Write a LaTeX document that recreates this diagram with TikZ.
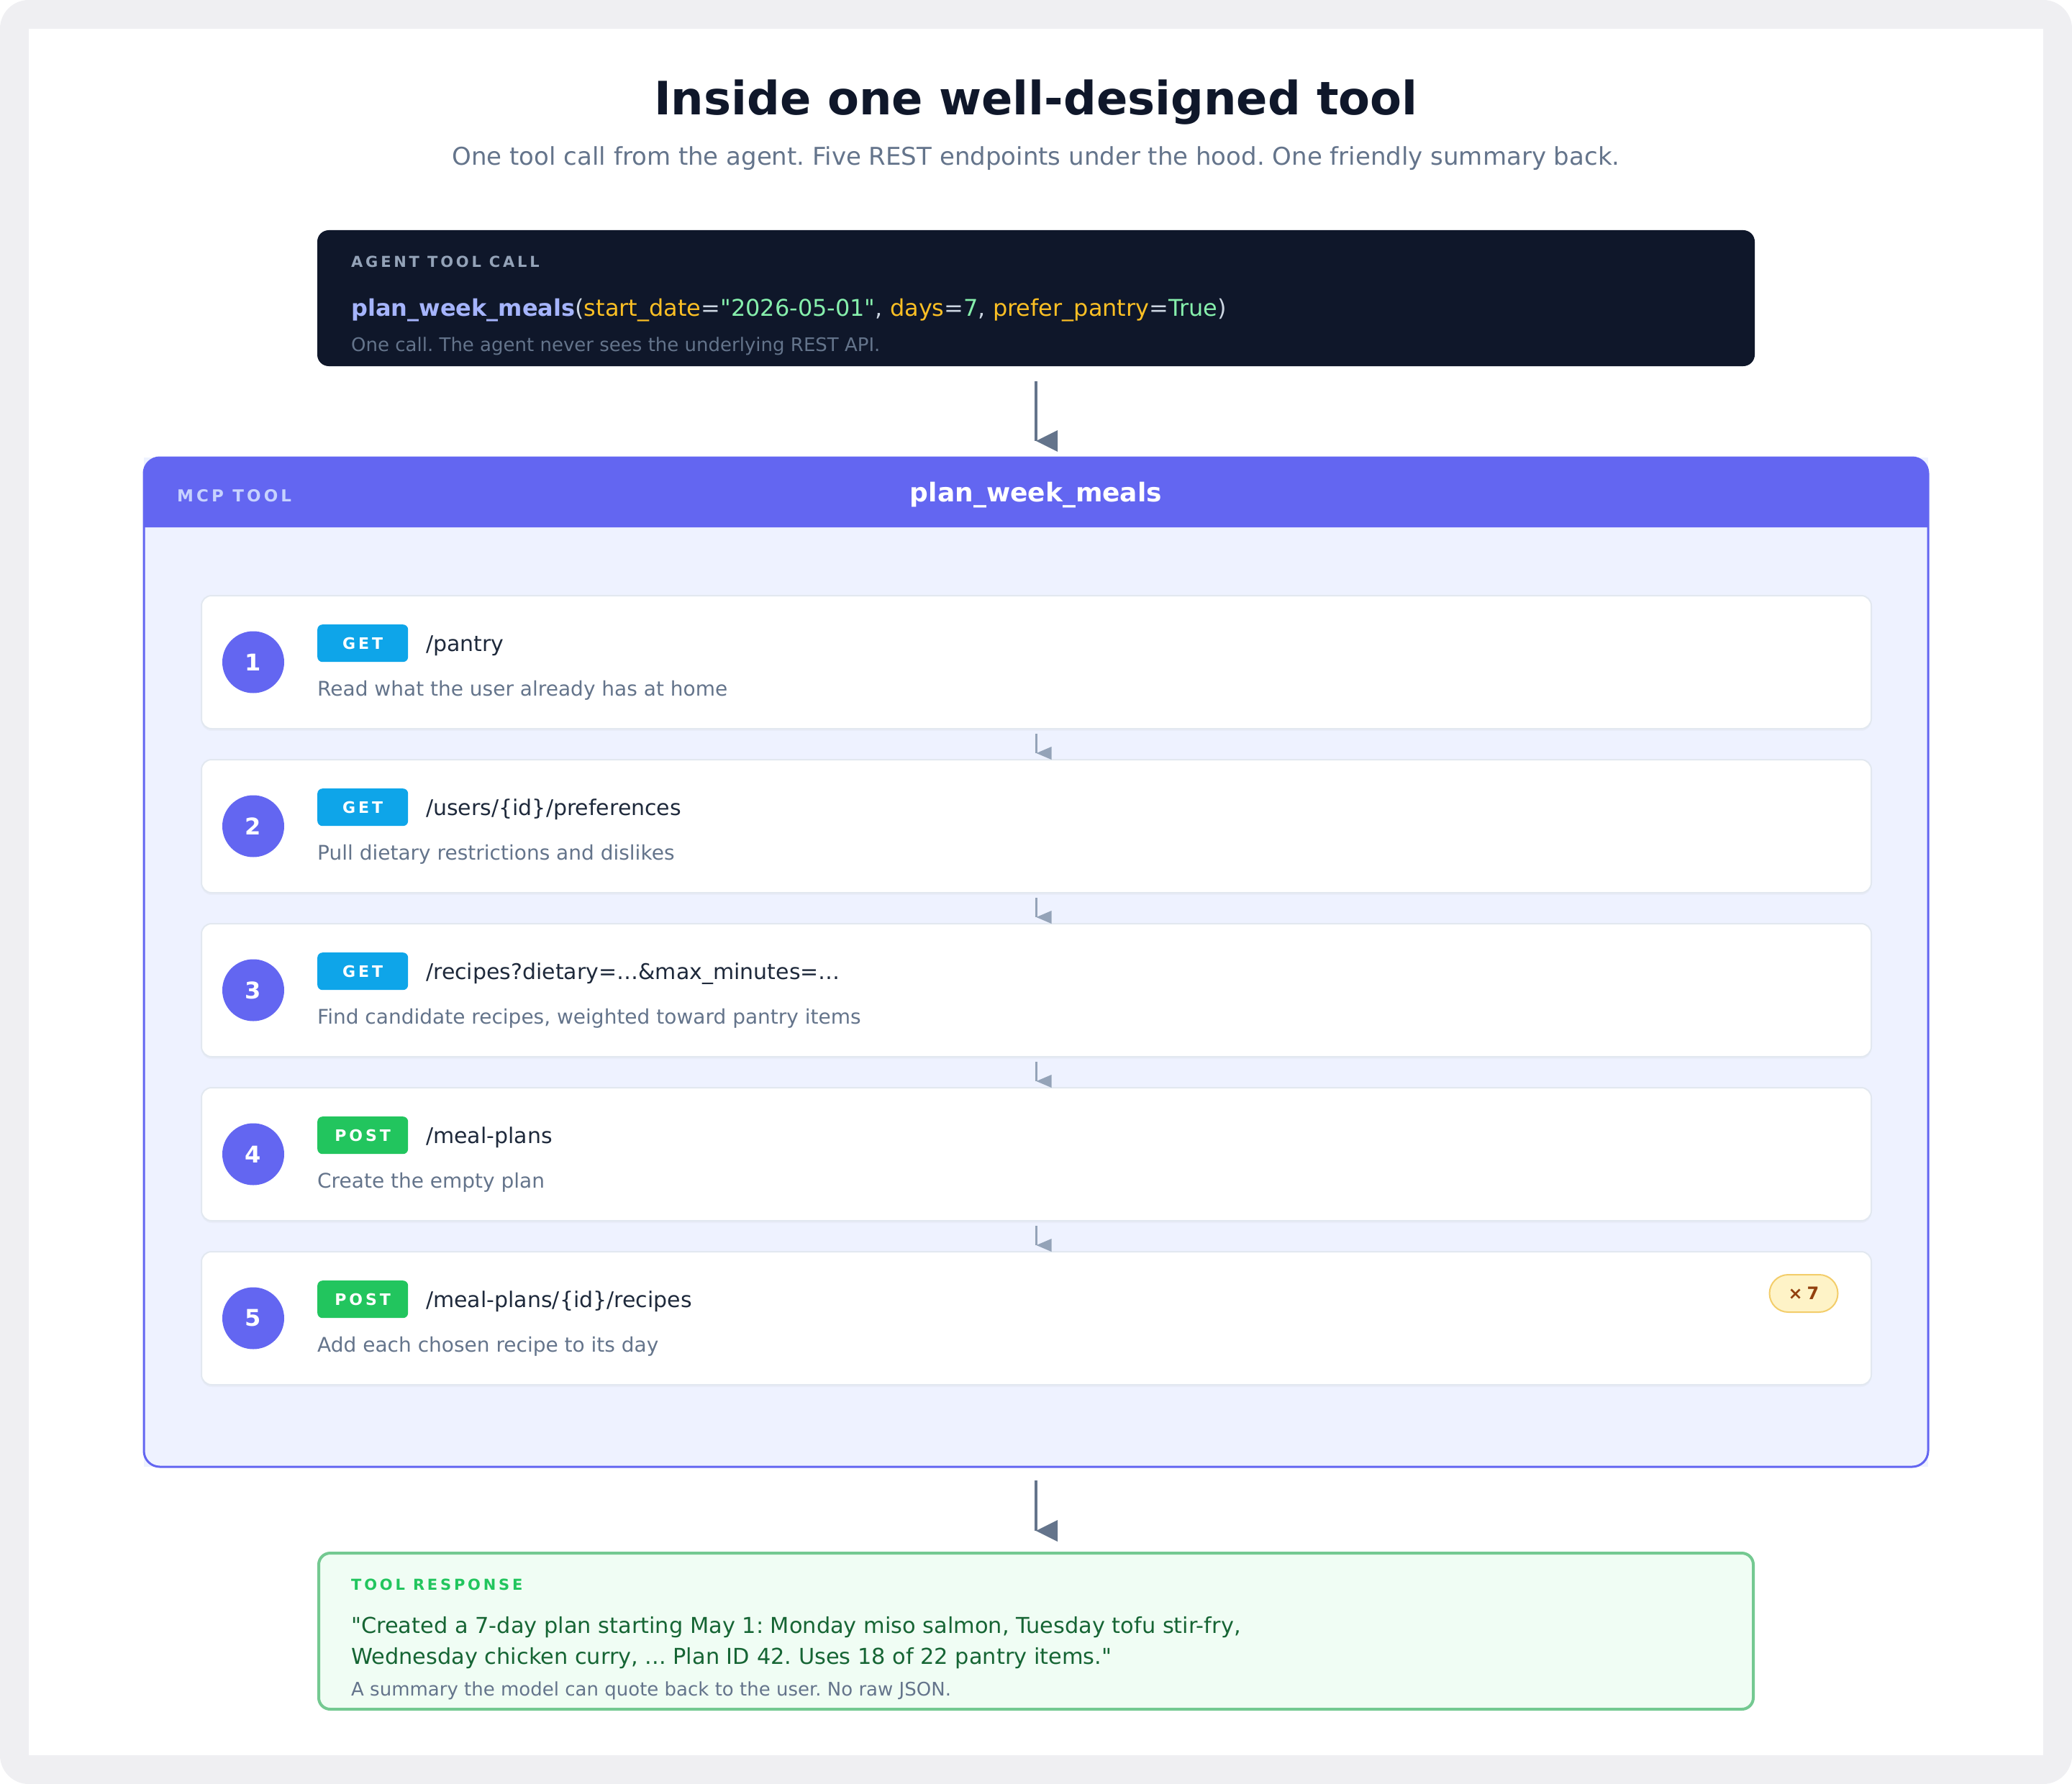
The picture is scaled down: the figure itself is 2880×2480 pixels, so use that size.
\documentclass[tikz,border=0pt]{standalone}
\usepackage{fontspec}
\setmainfont{DejaVu Sans}[Ligatures=TeXOff]
\newfontfamily\kickerfont[LetterSpace=18,Ligatures=TeXOff]{DejaVu Sans}
\frenchspacing
\usetikzlibrary{calc,positioning,shadows}
\definecolor{navy}{HTML}{0F172A}
\definecolor{slate}{HTML}{64748B}
\definecolor{slatelt}{HTML}{94A3B8}
\definecolor{slatedk}{HTML}{1E293B}
\definecolor{framegray}{HTML}{EFEFF2}
\definecolor{indigo}{HTML}{6366F1}
\definecolor{indigobg}{HTML}{EEF2FF}
\definecolor{indigolt}{HTML}{C7D2FE}
\definecolor{fnname}{HTML}{A5B4FC}
\definecolor{argname}{HTML}{FBBF24}
\definecolor{argval}{HTML}{86EFAC}
\definecolor{punct}{HTML}{CBD5E1}
\definecolor{sky}{HTML}{0EA5E9}
\definecolor{grass}{HTML}{22C55E}
\definecolor{cardline}{HTML}{E2E8F0}
\definecolor{amberbg}{HTML}{FEF3C7}
\definecolor{amberline}{HTML}{F3CD6A}
\definecolor{amberdk}{HTML}{92400E}
\definecolor{mintbg}{HTML}{F0FDF4}
\definecolor{mintline}{HTML}{74C991}
\definecolor{mintdk}{HTML}{166534}
\newdimen\cardw
\newdimen\cardh
\cardw=2321pt
\cardh=185pt
\tikzstyle{panel}=[
  rectangle,
  inner sep=0pt,
  outer sep=0pt,
]
\tikzstyle{card}=[
  panel,
  draw=cardline,
  line width=2pt,
  fill=white,
  rounded corners=14pt,
  minimum width=\cardw,
  minimum height=\cardh,
  drop shadow={opacity=0.05, shadow xshift=0pt, shadow yshift=-3pt},
]
\tikzstyle{stepno}=[
  circle,
  fill=indigo,
  minimum size=86pt,
  inner sep=0pt,
  text=white,
  font={\fontsize{32}{36}\selectfont\bfseries},
]
\tikzstyle{verb}=[
  rectangle,
  rounded corners=7pt,
  minimum width=126pt,
  minimum height=52pt,
  inner sep=0pt,
  anchor=north west,
  text=white,
  font={\kickerfont\fontsize{22}{26}\selectfont\bfseries},
]
\tikzstyle{getverb}=[verb, fill=sky]
\tikzstyle{postverb}=[verb, fill=grass]
\tikzstyle{endpoint}=[
  anchor=base west,
  inner sep=0pt,
  text=slatedk,
  font={\fontsize{30}{36}\selectfont},
]
\tikzstyle{stepnote}=[
  anchor=base west,
  inner sep=0pt,
  text=slate,
  font={\fontsize{28}{32}\selectfont},
]
\tikzstyle{smallnote}=[
  stepnote,
  font={\fontsize{26}{30}\selectfont},
]
\tikzstyle{kicker}=[
  anchor=base west,
  inner sep=0pt,
  font={\kickerfont\fontsize{21}{24}\selectfont\bfseries},
]
\tikzstyle{flow}=[draw=slate, line width=3.5pt]
\tikzstyle{flowtip}=[fill=slate]
\tikzstyle{substep}=[draw=slatelt, line width=2.5pt]
\tikzstyle{substeptip}=[fill=slatelt]
\tikzset{
  x=1pt,
  y=-1pt,
  node distance=43pt,
}
\begin{document}
\begin{tikzpicture}
  \useasboundingbox (0,0) rectangle (2880,2480);
  \fill [white] (0,0) rectangle (2880,2480);
  \fill [framegray, rounded corners=40pt] (0,0) rectangle (2880,2480);
  \fill [white] (40,40) rectangle (2840,2440);
  %%
  \node (title) [anchor=base, inner sep=0pt, text=navy, font={\fontsize{64}{70}\selectfont\bfseries}] at (1440,160) {Inside one well-designed tool};
  \node (subtitle) [anchor=base, inner sep=0pt, text=slate, font={\fontsize{34}{38}\selectfont}] at (1440,230) {One tool call from the agent. Five REST endpoints under the hood. One friendly summary back.};
  %%
  \node (call) [panel, fill=navy, rounded corners=16pt, minimum width=1998pt, minimum height=189pt, anchor=north] at (1440,320) {};
  \node (calllabel) [kicker, text=slatelt] at ($(call.north west)+(47,52)$) {AGENT TOOL CALL};
  \node (callcode) [anchor=base west, inner sep=0pt, font={\fontsize{32}{38}\selectfont}] at ($(call.north west)+(47,119)$) {\textcolor{fnname}{\bfseries plan\_week\_meals}\textcolor{punct}{(}\textcolor{argname}{start\_date}\textcolor{punct}{=}\textcolor{argval}{"2026-05-01"}\textcolor{punct}{, }\textcolor{argname}{days}\textcolor{punct}{=}\textcolor{argval}{7}\textcolor{punct}{, }\textcolor{argname}{prefer\_pantry}\textcolor{punct}{=}\textcolor{argval}{True}\textcolor{punct}{)}};
  \node (callnote) [smallnote] at ($(call.north west)+(47,168)$) {One call. The agent never sees the underlying REST API.};
  %%
  \node (mcp) [panel, fill=indigobg, minimum width=2480pt, minimum height=1403pt, anchor=north] at (1440,636) {};
  \coordinate (mcphead) at ($(mcp.north)+(0,97)$);
  \fill [indigo] (mcp.west |- mcphead) [rounded corners=22pt] -- (mcp.north west) -- (mcp.north east) [sharp corners] -- (mcp.east |- mcphead) -- cycle;
  \draw [indigo, line width=3pt, rounded corners=22pt] (mcp.north west) rectangle (mcp.south east);
  \node (mcplabel) [kicker, text=indigolt, font={\kickerfont\fontsize{23}{26}\selectfont\bfseries}] at ($(mcp.north west)+(46,61)$) {MCP TOOL};
  \node (mcpname) [anchor=base, inner sep=0pt, text=white, font={\fontsize{36}{40}\selectfont\bfseries}] at ($(mcp.north)+(0,61)$) {plan\_week\_meals};
  %%
  \node (card1) [card, anchor=north west] at (280,828) {};
  \node (card2) [card, below=of card1] {};
  \node (card3) [card, below=of card2] {};
  \node (card4) [card, below=of card3] {};
  \node (card5) [card, below=of card4] {};
  %%
  \node (no1) [stepno] at ($(card1.west)+(72,0)$) {1};
  \node (verb1) [getverb] at ($(card1.north west)+(161,40)$) {GET};
  \node (path1) [endpoint] at ($(card1.north west)+(312,77)$) {/pantry};
  \node (note1) [stepnote] at ($(card1.north west)+(161,139)$) {Read what the user already has at home};
  %%
  \node (no2) [stepno] at ($(card2.west)+(72,0)$) {2};
  \node (verb2) [getverb] at ($(card2.north west)+(161,40)$) {GET};
  \node (path2) [endpoint] at ($(card2.north west)+(312,77)$) {/users/\{id\}/preferences};
  \node (note2) [stepnote] at ($(card2.north west)+(161,139)$) {Pull dietary restrictions and dislikes};
  %%
  \node (no3) [stepno] at ($(card3.west)+(72,0)$) {3};
  \node (verb3) [getverb] at ($(card3.north west)+(161,40)$) {GET};
  \node (path3) [endpoint] at ($(card3.north west)+(312,77)$) {/recipes?dietary=…\&max\_minutes=…};
  \node (note3) [stepnote] at ($(card3.north west)+(161,139)$) {Find candidate recipes, weighted toward pantry items};
  %%
  \node (no4) [stepno] at ($(card4.west)+(72,0)$) {4};
  \node (verb4) [postverb] at ($(card4.north west)+(161,40)$) {POST};
  \node (path4) [endpoint] at ($(card4.north west)+(312,77)$) {/meal-plans};
  \node (note4) [stepnote] at ($(card4.north west)+(161,139)$) {Create the empty plan};
  %%
  \node (no5) [stepno] at ($(card5.west)+(72,0)$) {5};
  \node (verb5) [postverb] at ($(card5.north west)+(161,40)$) {POST};
  \node (path5) [endpoint] at ($(card5.north west)+(312,77)$) {/meal-plans/\{id\}/recipes};
  \node (note5) [stepnote] at ($(card5.north west)+(161,139)$) {Add each chosen recipe to its day};
  \node (times) [rectangle, rounded corners=26pt, draw=amberline, line width=2pt, fill=amberbg, minimum width=95pt, minimum height=52pt, inner sep=0pt, text=amberdk, font={\fontsize{24}{28}\selectfont\bfseries}] at ($(card5.north east)+(-94,58)$) {×\hspace{6pt}7};
  %%
  \draw [substep] ($(card1.south)+(0,7)$) -- ($(card2.north)+(0,-9)$) coordinate (s1);
  \fill [substeptip] (s1) -- ++(21,-9) -- ++(0,18) -- cycle;
  \draw [substep] ($(card2.south)+(0,7)$) -- ($(card3.north)+(0,-9)$) coordinate (s2);
  \fill [substeptip] (s2) -- ++(21,-9) -- ++(0,18) -- cycle;
  \draw [substep] ($(card3.south)+(0,7)$) -- ($(card4.north)+(0,-9)$) coordinate (s3);
  \fill [substeptip] (s3) -- ++(21,-9) -- ++(0,18) -- cycle;
  \draw [substep] ($(card4.south)+(0,7)$) -- ($(card5.north)+(0,-9)$) coordinate (s4);
  \fill [substeptip] (s4) -- ++(21,-9) -- ++(0,18) -- cycle;
  %%
  \node (resp) [panel, draw=mintline, line width=4pt, fill=mintbg, rounded corners=16pt, minimum width=1994pt, minimum height=217pt, anchor=north] at (1440,2159) {};
  \node (resplabel) [kicker, text=grass] at ($(resp.north west)+(45,51)$) {TOOL RESPONSE};
  \node (resp1) [endpoint, text=mintdk, font={\fontsize{30.4}{36}\selectfont}] at ($(resp.north west)+(45,111)$) {"Created a 7-day plan starting May 1: Monday miso salmon, Tuesday tofu stir-fry,};
  \node (resp2) [endpoint, text=mintdk, font={\fontsize{30.4}{36}\selectfont}] at ($(resp.north west)+(45,154)$) {Wednesday chicken curry, ... Plan ID 42. Uses 18 of 22 pantry items."};
  \node (respnote) [smallnote] at ($(resp.north west)+(45,198)$) {A summary the model can quote back to the user. No raw JSON.};
  %%
  \draw [flow] ($(call.south)+(0,21)$) -- ($(mcp.north)+(0,-23)$) coordinate (t1);
  \fill [flowtip] (t1) -- ++(30,-15) -- ++(0,30) -- cycle;
  \draw [flow] ($(mcp.south)+(0,19)$) -- ($(resp.north)+(0,-31)$) coordinate (t2);
  \fill [flowtip] (t2) -- ++(30,-15) -- ++(0,30) -- cycle;
\end{tikzpicture}
\end{document}
